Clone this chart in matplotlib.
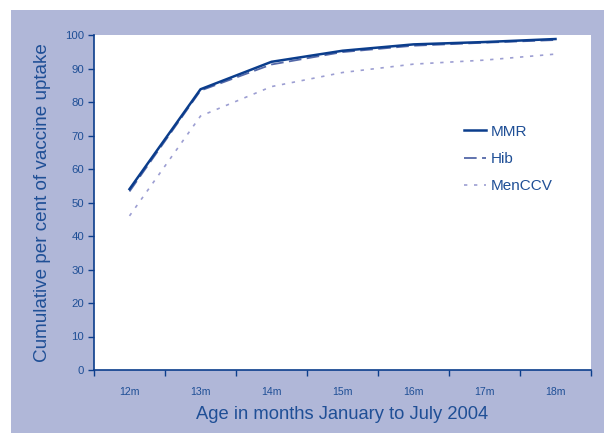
import matplotlib.pyplot as plt
from matplotlib.patches import Rectangle

plt.rcParams['font.family'] = ['Liberation Sans', 'DejaVu Sans']

# Data
ages = ['12m', '13m', '14m', '15m', '16m', '17m', '18m']
mmr = [54.0, 83.8, 92.0, 95.3, 97.2, 97.9, 98.8]
hib = [53.3, 83.4, 91.2, 94.9, 96.8, 97.7, 98.5]
menccv = [46.0, 75.8, 84.6, 88.8, 91.3, 92.5, 94.3]

navy = '#0b3d8c'
panel = '#b0b7d8'
txt = '#1f4f96'

fig = plt.figure(figsize=(6.04, 4.33), dpi=100)
fig.patch.set_facecolor('white')
fig.add_artist(Rectangle((11 / 604, 0), 1, 423 / 433, transform=fig.transFigure,
                         facecolor=panel, edgecolor='none', zorder=-10))

ax = fig.add_axes([94 / 604, 63 / 433, 497 / 604, 335 / 433])
ax.set_facecolor('white')

x = list(range(len(ages)))
ax.plot(x, mmr, color=navy, lw=1.8, label='MMR', zorder=3)
ax.plot(x, hib, color='#5468a8', lw=1.3, ls=(0, (7, 3)), label='Hib', zorder=2)
ax.plot(x, menccv, color='#9c9ed2', lw=1.2, ls=(0, (2, 4)), label='MenCCV', zorder=2)

ax.set_xlim(-0.5, len(ages) - 0.5)
ax.set_ylim(0, 100)
ax.set_yticks(range(0, 101, 10))
ax.set_xticks([i - 0.5 for i in range(len(ages) + 1)])
ax.set_xticklabels([])
ax.set_xticks(x, minor=True)
ax.set_xticklabels(ages, minor=True)

for s in ['top', 'right']:
    ax.spines[s].set_visible(False)
for s in ['left', 'bottom']:
    ax.spines[s].set_color(navy)
    ax.spines[s].set_linewidth(1.2)

ax.tick_params(axis='y', which='major', direction='out', length=4, width=1,
               color=navy, labelcolor=txt, labelsize=8.2, pad=3)
ax.tick_params(axis='x', which='major', direction='out', length=4, width=1, color=navy)
ax.tick_params(axis='x', which='minor', length=0, labelcolor=txt,
               labelsize=7.6, pad=12)

ax.set_ylabel('Cumulative per cent of vaccine uptake', fontsize=13.6, color=txt,
              labelpad=10)
ax.set_xlabel('Age in months January to July 2004', fontsize=13.2, color=txt,
              labelpad=7)

ax.legend(loc='upper left', bbox_to_anchor=(450 / 604, 1 - 111 / 433),
          bbox_transform=fig.transFigure, frameon=False, fontsize=11,
          handlelength=1.45, handletextpad=0.33, labelspacing=0.86,
          labelcolor=txt)

fig.savefig('out.png', dpi=100)
